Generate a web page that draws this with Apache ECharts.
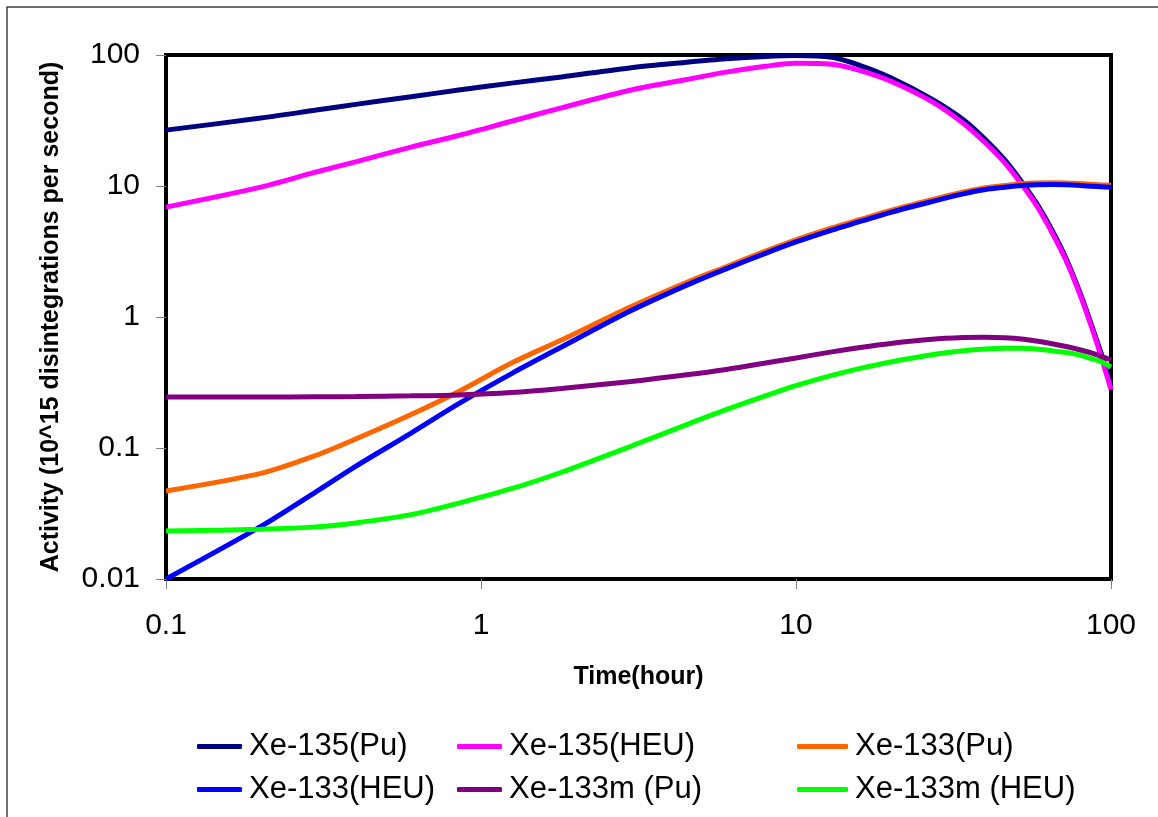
<!DOCTYPE html>
<html lang="en">
<head>
    <meta charset="UTF-8">
    <script src="https://cdn.jsdelivr.net/npm/echarts@6/dist/echarts.min.js"></script>
    <style>
        html, body { margin: 0; padding: 0; background: #fff; }
    </style>
</head>
<body>

<div id="main" style="width: 1158px;height:817px;"></div>

<script type="text/javascript">
    // time axis (hours), shared by every curve
    var hours = [0.1, 0.2, 0.3, 0.4, 0.6, 0.85, 1.25, 1.8, 3, 4.5, 6, 8, 10, 13, 16, 20, 27, 34, 40, 46, 52, 58, 65, 72, 80, 87, 93, 100];

    // activity, 10^15 disintegrations per second
    var xe135Pu   = [26.7, 33, 38, 42, 48, 54, 61, 68, 80, 88, 93.5, 97.5, 99, 96, 83, 67, 46, 32, 22.5, 15.8, 10.8, 7.4, 4.6, 2.8, 1.5, 0.85, 0.53, 0.3];
    var xe135Heu  = [6.9, 9.8, 12.8, 15.3, 19.8, 24.3, 31.2, 39.5, 54, 65, 74, 82, 86.5, 85, 76, 63, 44, 30, 21.2, 15, 10.3, 7.1, 4.4, 2.7, 1.45, 0.82, 0.5, 0.28];
    var xe133Pu   = [0.047, 0.064, 0.088, 0.117, 0.18, 0.27, 0.445, 0.667, 1.2, 1.84, 2.42, 3.18, 3.88, 4.78, 5.55, 6.5, 7.85, 9.0, 9.7, 10.1, 10.42, 10.56, 10.6, 10.56, 10.45, 10.3, 10.2, 10.1];
    var xe133Heu  = [0.01, 0.0252, 0.0465, 0.0725, 0.13, 0.218, 0.37, 0.59, 1.12, 1.75, 2.33, 3.06, 3.74, 4.61, 5.36, 6.3, 7.6, 8.7, 9.4, 9.78, 10.1, 10.23, 10.28, 10.23, 10.1, 9.95, 9.85, 9.78];
    var xe133mPu  = [0.245, 0.245, 0.246, 0.247, 0.25, 0.254, 0.265, 0.285, 0.322, 0.362, 0.398, 0.445, 0.487, 0.542, 0.585, 0.628, 0.675, 0.696, 0.702, 0.695, 0.68, 0.655, 0.625, 0.595, 0.56, 0.53, 0.5, 0.47];
    var xe133mHeu = [0.0232, 0.024, 0.025, 0.0268, 0.031, 0.038, 0.0489, 0.0653, 0.1035, 0.151, 0.196, 0.25, 0.299, 0.358, 0.405, 0.454, 0.515, 0.552, 0.57, 0.577, 0.577, 0.57, 0.552, 0.535, 0.51, 0.48, 0.455, 0.415];

    var seriesNames = ['Xe-135(Pu)', 'Xe-135(HEU)', 'Xe-133(Pu)', 'Xe-133(HEU)', 'Xe-133m (Pu)', 'Xe-133m (HEU)'];
    var seriesValues = [xe135Pu, xe135Heu, xe133Pu, xe133Heu, xe133mPu, xe133mHeu];
    var seriesColors = ['#000080', '#ff00ff', '#ff6600', '#0000ff', '#800080', '#00ff00'];

    var xTickLabels = ['0.1', '1', '10', '100'];
    var yTickLabels = ['0.01', '0.1', '1', '10', '100'];

    var font = 'Liberation Sans, Arial, sans-serif';

    function pairs(values) {
        return hours.map(function (h, i) { return [h, values[i]]; });
    }

    var series = seriesNames.map(function (name, i) {
        return {
            name: name,
            type: 'line',
            data: pairs(seriesValues[i]),
            smooth: 0.3,
            showSymbol: false,
            symbol: 'none',
            lineStyle: { color: seriesColors[i], width: 5 },
            itemStyle: { color: seriesColors[i] }
        };
    });

    // one legend per column so the columns line up like the original
    function legendColumn(names, left, width) {
        return {
            data: names,
            orient: 'vertical',
            left: left,
            top: 731,
            padding: 0,
            itemGap: 12,
            itemWidth: width,
            itemHeight: 5,
            icon: 'roundRect',
            selectedMode: false,
            textStyle: { fontSize: 31, color: '#000', fontFamily: font, padding: [0, 0, 0, 2] }
        };
    }

    var myChart = echarts.init(document.getElementById('main'));

    var option = {
        backgroundColor: '#fff',
        animation: false,
        grid: {
            left: 166, top: 55, right: 47, bottom: 238,
            show: true,
            borderColor: '#000',
            borderWidth: 4,
            backgroundColor: 'transparent'
        },
        legend: [
            legendColumn([seriesNames[0], seriesNames[3]], 197, 45),
            legendColumn([seriesNames[1], seriesNames[4]], 457, 45),
            legendColumn([seriesNames[2], seriesNames[5]], 797, 51)
        ],
        xAxis: {
            type: 'log',
            logBase: 10,
            min: 0.1,
            max: 100,
            name: 'Time(hour)',
            nameLocation: 'middle',
            nameGap: 86,
            nameTextStyle: { fontSize: 25, fontWeight: 'bold', color: '#000', fontFamily: font },
            axisLine: { show: false },
            axisTick: { show: true, inside: false, length: 10, lineStyle: { color: '#808080', width: 1 } },
            minorTick: { show: false },
            splitLine: { show: false },
            axisLabel: {
                fontSize: 30, color: '#000', fontFamily: font, margin: 32,
                formatter: function (v) { return xTickLabels[Math.round(Math.log10(v)) + 1]; }
            }
        },
        yAxis: {
            type: 'log',
            logBase: 10,
            min: 0.01,
            max: 100,
            name: 'Activity (10^15 disintegrations per second)',
            nameLocation: 'middle',
            nameGap: 102,
            nameTextStyle: { fontSize: 25, fontWeight: 'bold', color: '#000', fontFamily: font },
            axisLine: { show: false },
            axisTick: { show: true, inside: false, length: 10, lineStyle: { color: '#808080', width: 1 } },
            minorTick: { show: false },
            splitLine: { show: false },
            axisLabel: {
                fontSize: 30, color: '#000', fontFamily: font, margin: 26,
                formatter: function (v) { return yTickLabels[Math.round(Math.log10(v)) + 2]; }
            }
        },
        graphic: [{
            type: 'rect',
            shape: { x: 7, y: 7, width: 1170, height: 830 },
            style: { fill: 'none', stroke: '#404040', lineWidth: 1.5 },
            silent: true
        }],
        series: series
    };

    myChart.setOption(option);
</script>
</body>
</html>
